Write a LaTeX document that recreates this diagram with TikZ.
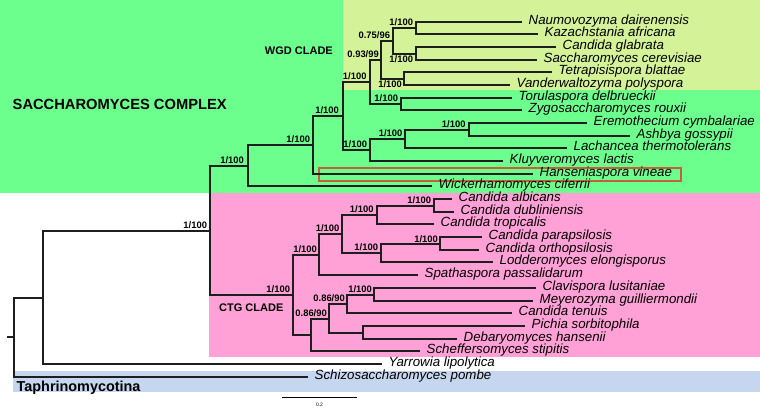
\documentclass[tikz,border=0pt]{standalone}
\usepackage{fontspec}
\setmainfont{Liberation Sans}
\definecolor{sacgreen}{RGB}{108,255,142}
\definecolor{wgdyel}{RGB}{212,242,152}
\definecolor{ctgpink}{RGB}{255,160,214}
\definecolor{taphblue}{RGB}{197,214,238}
\definecolor{hanred}{RGB}{196,96,58}
\begin{document}
\begin{tikzpicture}[x=1pt,y=-1pt,
  br/.style={line width=2.0pt, line join=miter, draw={rgb,255:red,30;green,30;blue,30}},
  taxon/.style={font=\itshape\fontsize{13.3}{14}\selectfont, anchor=west, inner xsep=6.5pt, inner ysep=0pt, text height=9.5pt, text depth=2.8pt},
  sup/.style={font=\bfseries\fontsize{9.4}{10}\selectfont, anchor=base east, inner sep=0pt},
  clade/.style={font=\bfseries\fontsize{11}{12}\selectfont, inner sep=0pt},
  big/.style={font=\bfseries\fontsize{14.7}{16}\selectfont, inner sep=0pt, anchor=base west}]
\useasboundingbox (0,0) rectangle (760,407);
% backgrounds
\fill[white] (0,0) rectangle (760,407);
\fill[sacgreen] (0,0) rectangle (760,193);
\fill[wgdyel] (343,0) rectangle (760,90);
\fill[ctgpink] (209,193) rectangle (760,357);
\fill[taphblue] (13,371) rectangle (760,392);
\draw[hanred, line width=2pt] (318.5,167.5) rectangle (680.5,180.5);
% group labels
\node[big] (sacc) at (12.5,109) {SACCHAROMYCES COMPLEX};
\node[big, font=\bfseries\fontsize{14.4}{16}\selectfont] (taph) at (16.5,391.5) {Taphrinomycotina};
\node[clade, anchor=base east] (wgd) at (333,54.3) {WGD CLADE};
\node[clade, anchor=base west] (ctg) at (219,311.7) {CTG CLADE};
% tips
\node[taxon] (t1) at (522,21.5) {Naumovozyma dairenensis};
\node[taxon] (t2) at (538,33.5) {Kazachstania africana};
\node[taxon] (t3) at (556,46.5) {Candida glabrata};
\node[taxon] (t4) at (537,59.5) {Saccharomyces cerevisiae};
\node[taxon] (t5) at (552,71.5) {Tetrapisispora blattae};
\node[taxon] (t6) at (510,84.5) {Vanderwaltozyma polyspora};
\node[taxon] (t7) at (512,97.5) {Torulaspora delbrueckii};
\node[taxon] (t8) at (522,109.5) {Zygosaccharomyces rouxii};
\node[taxon] (t9) at (587,122.5) {Eremothecium cymbalariae};
\node[taxon] (t10) at (630,135.5) {Ashbya gossypii};
\node[taxon] (t11) at (567,147.5) {Lachancea thermotolerans};
\node[taxon] (t12) at (503,160.5) {Kluyveromyces lactis};
\node[taxon] (t13) at (533,173.5) {Hanseniaspora vineae};
\node[taxon] (t14) at (432,185.5) {Wickerhamomyces ciferrii};
\node[taxon] (t15) at (452,198.5) {Candida albicans};
\node[taxon] (t16) at (454,211.5) {Candida dubliniensis};
\node[taxon] (t17) at (434,223.5) {Candida tropicalis};
\node[taxon] (t18) at (482,236.5) {Candida parapsilosis};
\node[taxon] (t19) at (479,249.5) {Candida orthopsilosis};
\node[taxon] (t20) at (493,261.5) {Lodderomyces elongisporus};
\node[taxon] (t21) at (418,274.5) {Spathaspora passalidarum};
\node[taxon] (t22) at (536,287.5) {Clavispora lusitaniae};
\node[taxon] (t23) at (533,300.5) {Meyerozyma guilliermondii};
\node[taxon] (t24) at (512,312.5) {Candida tenuis};
\node[taxon] (t25) at (525,325.5) {Pichia sorbitophila};
\node[taxon] (t26) at (457,338.5) {Debaryomyces hansenii};
\node[taxon] (t27) at (420,350.5) {Scheffersomyces stipitis};
\node[taxon] (t28) at (382,363.5) {Yarrowia lipolytica};
\node[taxon] (t29) at (308,376.5) {Schizosaccharomyces pombe};
% internal nodes
\coordinate (nNK) at (415.5,27.5);
\coordinate (nGS) at (415.5,53.5);
\coordinate (n075) at (392.5,40.5);
\coordinate (nTV) at (403.5,78.5);
\coordinate (n093) at (380.5,59.5);
\coordinate (nTZ) at (400.5,103.5);
\coordinate (nWGD) at (369.5,81.5);
\coordinate (nEA) at (468.5,129.5);
\coordinate (nEAL) at (404.5,138.5);
\coordinate (nK) at (369.5,149.5);
\coordinate (n342) at (342.5,115.5);
\coordinate (n312) at (312.5,144.5);
\coordinate (n247) at (247.5,165.5);
\coordinate (nAD) at (433.5,205.5);
\coordinate (nADT) at (376.5,214.5);
\coordinate (nPO) at (439.5,243.5);
\coordinate (nPOL) at (380.5,252.5);
\coordinate (n341) at (341.5,233.5);
\coordinate (n318) at (318.5,254.5);
\coordinate (nCM) at (373.5,294.5);
\coordinate (nCMT) at (346.5,303.5);
\coordinate (nPD) at (362.5,332.5);
\coordinate (n328) at (328.5,318.5);
\coordinate (n310) at (310.5,334.5);
\coordinate (nCTG) at (292.5,294.5);
\coordinate (n209) at (209.5,230.5);
\coordinate (n42) at (42.5,297.5);
\coordinate (root) at (13.5,336.5);
\coordinate (stub) at (7,336.5);
% branches
\draw[br] (nNK) |- (t1.west);
\draw[br] (nNK) |- (t2.west);
\draw[br] (nGS) |- (t3.west);
\draw[br] (nGS) |- (t4.west);
\draw[br] (n075) |- (nNK);
\draw[br] (n075) |- (nGS);
\draw[br] (nTV) |- (t5.west);
\draw[br] (nTV) |- (t6.west);
\draw[br] (n093) |- (n075);
\draw[br] (n093) |- (nTV);
\draw[br] (nTZ) |- (t7.west);
\draw[br] (nTZ) |- (t8.west);
\draw[br] (nWGD) |- (n093);
\draw[br] (nWGD) |- (nTZ);
\draw[br] (nEA) |- (t9.west);
\draw[br] (nEA) |- (t10.west);
\draw[br] (nEAL) |- (nEA);
\draw[br] (nEAL) |- (t11.west);
\draw[br] (nK) |- (nEAL);
\draw[br] (nK) |- (t12.west);
\draw[br] (n342) |- (nWGD);
\draw[br] (n342) |- (nK);
\draw[br] (n312) |- (n342);
\draw[br] (n312) |- (t13.west);
\draw[br] (n247) |- (n312);
\draw[br] (n247) |- (t14.west);
\draw[br] (nAD) |- (t15.west);
\draw[br] (nAD) |- (t16.west);
\draw[br] (nADT) |- (nAD);
\draw[br] (nADT) |- (t17.west);
\draw[br] (nPO) |- (t18.west);
\draw[br] (nPO) |- (t19.west);
\draw[br] (nPOL) |- (nPO);
\draw[br] (nPOL) |- (t20.west);
\draw[br] (n341) |- (nADT);
\draw[br] (n341) |- (nPOL);
\draw[br] (n318) |- (n341);
\draw[br] (n318) |- (t21.west);
\draw[br] (nCM) |- (t22.west);
\draw[br] (nCM) |- (t23.west);
\draw[br] (nCMT) |- (nCM);
\draw[br] (nCMT) |- (t24.west);
\draw[br] (nPD) |- (t25.west);
\draw[br] (nPD) |- (t26.west);
\draw[br] (n328) |- (nCMT);
\draw[br] (n328) |- (nPD);
\draw[br] (n310) |- (n328);
\draw[br] (n310) |- (t27.west);
\draw[br] (nCTG) |- (n318);
\draw[br] (nCTG) |- (n310);
\draw[br] (n209) |- (n247);
\draw[br] (n209) |- (nCTG);
\draw[br] (n42) |- (n209);
\draw[br] (n42) |- (t28.west);
\draw[br] (root) |- (n42);
\draw[br] (root) |- (t29.west);
\draw[br] (stub) -- (root);
% support values
\node[sup] (lNK) at ([shift={(-2.3,-2.3)}]nNK) {1/100};
\node[sup] (l075) at ([shift={(-2.3,-2.3)}]n075) {0.75/96};
\node[sup] (l093) at ([shift={(-1.5,-2.3)}]n093) {0.93/99};
\node[sup] (lGS) at ([shift={(-2.3,8.5)}]nGS) {1/100};
\node[sup] (lWGD) at ([shift={(-2.8,-2.3)}]nWGD) {1/100};
\node[sup] (lTV) at ([shift={(-1.5,8.5)}]nTV) {1/100};
\node[sup] (lTZ) at ([shift={(-2.3,-2.3)}]nTZ) {1/100};
\node[sup] (l342) at ([shift={(-3.5,-2.3)}]n342) {1/100};
\node[sup] (lEA) at ([shift={(-2.8,-2.3)}]nEA) {1/100};
\node[sup] (lEAL) at ([shift={(-2,-2.3)}]nEAL) {1/100};
\node[sup] (l312) at ([shift={(-2.3,-2.3)}]n312) {1/100};
\node[sup] (lK) at ([shift={(-2.3,-2.3)}]nK) {1/100};
\node[sup] (l247) at ([shift={(-3.5,-2.3)}]n247) {1/100};
\node[sup] (lAD) at ([shift={(-2.3,-2.3)}]nAD) {1/100};
\node[sup] (lADT) at ([shift={(-2.8,-2.3)}]nADT) {1/100};
\node[sup] (l209) at ([shift={(-2.3,-2.3)}]n209) {1/100};
\node[sup] (l341) at ([shift={(-2,-2.3)}]n341) {1/100};
\node[sup] (lPO) at ([shift={(-1.5,-1)}]nPO) {1/100};
\node[sup] (lPOL) at ([shift={(-2.3,-2.3)}]nPOL) {1/100};
\node[sup] (l318) at ([shift={(-1.5,-2.3)}]n318) {1/100};
\node[sup] (lCTG) at ([shift={(-2.3,-2.3)}]nCTG) {1/100};
\node[sup] (lCM) at ([shift={(-1.5,-2.3)}]nCM) {1/100};
\node[sup] (lCMT) at ([shift={(-1.5,-2.3)}]nCMT) {0.86/90};
\node[sup] (l328) at ([shift={(-1.5,-2.3)}]n328) {0.86/90};
% scale bar
\coordinate (sb1) at (282,397.5);
\coordinate (sb2) at (357,397.5);
\draw[line width=1.3pt] (sb1) -- (sb2);
\node[font=\fontsize{5}{6}\selectfont, inner sep=0pt] (sbl) at (319.5,404.3) {0.2};
\end{tikzpicture}
\end{document}
